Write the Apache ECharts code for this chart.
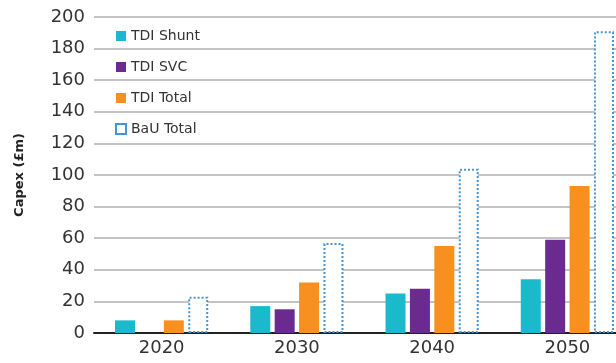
<!DOCTYPE html>
<html>
<head>
<meta charset="utf-8">
<script src="https://cdn.jsdelivr.net/npm/echarts@6/dist/echarts.min.js"></script>
<style>
  html, body { margin: 0; padding: 0; background: #ffffff; overflow: hidden; }
  #chart { width: 636px; height: 363px; }
</style>
</head>
<body>
<div id="chart"></div>
<script>
// Capex by year for the TDI options and the business-as-usual total (£m)
const years = ['2020', '2030', '2040', '2050'];
const tdiShunt = [8, 17, 25, 34];
const tdiSvc = [0, 15, 28, 59];
const tdiTotal = [8, 32, 55, 93];
const bauTotal = [23, 57, 104, 191];
const yTicks = { min: 0, max: 200, step: 20 };

const font = 'DejaVu Sans, Verdana, sans-serif';
const chart = echarts.init(document.getElementById('chart'), null, { renderer: 'canvas' });

const solidBar = (name, data, color) => ({
  name, type: 'bar', data,
  barWidth: 20, barGap: '22%',
  itemStyle: { color },
  emphasis: { disabled: true }
});

chart.setOption({
  animation: false,
  backgroundColor: '#ffffff',
  grid: { left: 94, top: 17, width: 541, height: 316, containLabel: false },
  legend: {
    orient: 'vertical', left: 110, top: 24,
    icon: 'rect',
    itemWidth: 10, itemHeight: 10, itemGap: 17, itemStyle: {},
    textStyle: { fontFamily: font, fontSize: 14, color: '#333' },
    data: ['TDI Shunt', 'TDI SVC', 'TDI Total', 'BaU Total']
  },
  xAxis: {
    type: 'category', data: years,
    axisLine: { lineStyle: { color: '#222', width: 2 } },
    axisTick: { show: false },
    axisLabel: { fontFamily: font, fontSize: 18, color: '#333', margin: 6 }
  },
  yAxis: {
    type: 'value', min: yTicks.min, max: yTicks.max, interval: yTicks.step,
    name: 'Capex (£m)', nameLocation: 'middle', nameGap: 68, nameRotate: 90,
    nameTextStyle: { fontFamily: font, fontSize: 13, fontWeight: 'bold', color: '#222' },
    axisLine: { show: false },
    axisTick: { show: false },
    axisLabel: { fontFamily: font, fontSize: 18, color: '#333', margin: 9 },
    splitLine: { lineStyle: { color: '#b0b0b0', width: 1.5 } }
  },
  series: [
    solidBar('TDI Shunt', tdiShunt, '#1bb9cc'),
    solidBar('TDI SVC', tdiSvc, '#6b2a8f'),
    solidBar('TDI Total', tdiTotal, '#f7901e'),
    {
      name: 'BaU Total', type: 'bar', data: bauTotal,
      barWidth: 20, barGap: '22%',
      itemStyle: { color: '#ffffff', borderColor: '#4594d4', borderWidth: 2, borderType: [2, 2] },
      emphasis: { disabled: true }
    }
  ]
});
</script>
</body>
</html>
